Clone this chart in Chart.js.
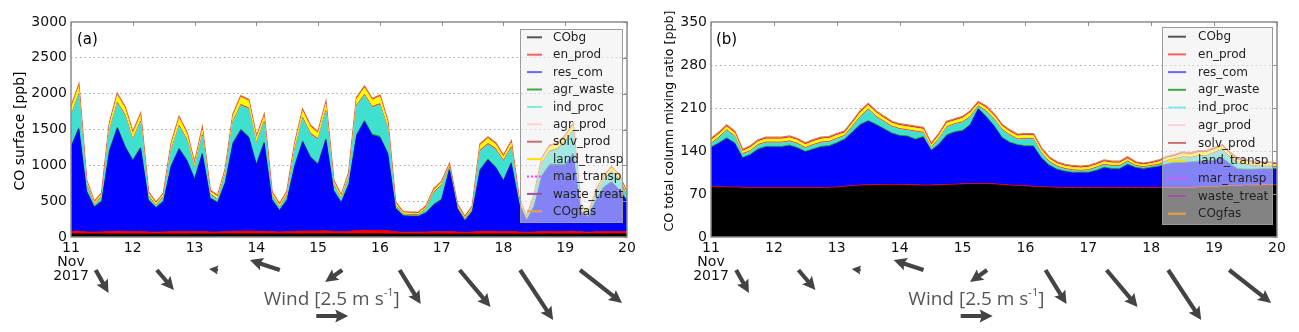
<!DOCTYPE html>
<html>
<head>
<meta charset="utf-8">
<script src="https://cdn.jsdelivr.net/npm/chart.js@4"></script>
<style>
  body { margin: 0; background: #fff; }
  .panel { position: absolute; top: 0; height: 332px; }
  #wrapA { left: 0; width: 650px; }
  #wrapB { left: 650px; width: 649px; }
</style>
</head>
<body>
<div class="panel" id="wrapA"><canvas id="chartA" width="650" height="332"></canvas></div>
<div class="panel" id="wrapB"><canvas id="chartB" width="649" height="332"></canvas></div>
<script>
// ---- data (3-hourly) ----
const times = [
  11, 11.125, 11.25, 11.375, 11.5, 11.625, 11.75, 11.875,
  12, 12.125, 12.25, 12.375, 12.5, 12.625, 12.75, 12.875,
  13, 13.125, 13.25, 13.375, 13.5, 13.625, 13.75, 13.875,
  14, 14.125, 14.25, 14.375, 14.5, 14.625, 14.75, 14.875,
  15, 15.125, 15.25, 15.375, 15.5, 15.625, 15.75, 15.875,
  16, 16.125, 16.25, 16.375, 16.5, 16.625, 16.75, 16.875,
  17, 17.125, 17.25, 17.375, 17.5, 17.625, 17.75, 17.875,
  18, 18.125, 18.25, 18.375, 18.5, 18.625, 18.75, 18.875,
  19, 19.125, 19.25, 19.375, 19.5, 19.625, 19.75, 19.875,
  20
];

const seriesLabels = ["CObg", "en_prod", "res_com", "agr_waste", "ind_proc", "agr_prod",
  "solv_prod", "land_transp", "mar_transp", "waste_treat", "COgfas"];

const xTicks = [11, 12, 13, 14, 15, 16, 17, 18, 19, 20];
const yTicksA = [0, 500, 1000, 1500, 2000, 2500, 3000];
const yTicksB = [0, 70, 140, 210, 280, 350];

// panel (a): CO surface [ppb]
const coBgA = [42,42,41,41,41,40,40,40, 40,40,40,40,40,40,40,40, 41,41,41,42,42,42,42,42, 42,42,42,42,42,42,42,42, 43,43,43,43,43,42,42,42, 42,41,41,40,40,40,40,40, 40,40,40,40,40,40,40,40, 40,40,40,40,40,40,41,41, 41,41,42,42,42,42,43,43, 43];
const enProdA = [35,38,30,28,30,36,40,38, 36,38,30,28,30,35,38,36, 34,36,30,28,32,38,40,40, 36,38,30,28,30,36,42,40, 40,44,34,32,36,48,52,50, 50,45,32,28,28,28,30,32, 32,36,30,26,30,38,40,38, 34,38,30,26,30,34,36,36, 36,40,30,26,30,32,34,32, 30];
const resComA = [1170,1425,565,345,425,1125,1435,1175, 985,1155,445,335,425,915,1145,985, 725,1075,465,405,685,1225,1405,1305, 925,1225,445,295,445,915,1240,1025, 925,1265,565,400,655,1325,1515,1325, 1295,1075,325,225,215,215,265,375, 445,855,325,155,285,855,995,885, 705,945,395,155,355,775,925,925, 925,1075,275,205,435,615,685,575, 425];
const agrWasteA = [16,18,13,12,12,16,18,17, 16,17,12,12,12,15,17,16, 14,16,12,12,13,17,18,18, 16,17,12,12,12,15,17,16, 16,17,13,12,13,18,18,18, 18,16,12,11,11,11,11,12, 12,14,12,11,11,15,15,15, 14,15,12,11,12,14,15,15, 15,16,12,11,12,13,13,13, 12];
const indProcA = [408,453,73,13,43,253,323,413, 263,343,38,13,43,193,293,263, 123,233,38,28,98,273,323,373, 268,263,38,23,48,193,303,303, 323,373,63,33,78,383,343,363, 433,323,23,5,5,5,38,153, 183,10,5,5,18,243,193,233, 253,193,13,3,93,153,163,193, 298,293,23,5,63,83,128,133, 43];
const agrProdA = [4,4,3,2,3,4,4,4, 4,4,3,2,3,4,4,4, 4,4,3,2,3,4,4,4, 4,4,3,2,3,4,4,4, 4,4,3,2,3,4,4,4, 4,4,2,2,2,2,2,3, 3,3,2,2,2,4,4,4, 4,4,2,2,3,4,4,4, 4,4,2,2,3,3,3,3, 3];
const solvProdA = [18,18,14,10,14,18,18,18, 18,18,14,10,14,18,18,18, 18,18,14,10,14,18,18,18, 18,18,14,10,14,18,18,18, 18,18,14,10,14,18,18,18, 18,18,10,10,10,10,10,14, 14,14,10,10,10,18,18,18, 18,18,10,10,14,18,18,18, 18,18,10,10,14,14,14,14, 14];
const landTranspA = [100,100,40,30,30,80,100,90, 80,80,35,30,30,70,100,80, 50,70,35,35,45,80,100,100, 70,70,35,30,35,70,90,90, 80,90,40,35,45,90,90,90, 100,80,30,20,20,20,25,30, 30,25,25,20,25,70,70,60, 50,60,30,20,30,50,60,60, 60,70,30,20,30,40,45,40, 30];
const marTranspA = [1,1,1,1,1,1,1,1, 1,1,1,1,1,1,1,1, 1,1,1,1,1,1,1,1, 1,1,1,1,1,1,1,1, 1,1,1,1,1,1,1,1, 1,1,1,1,1,1,1,1, 1,1,1,1,1,1,1,1, 1,1,1,1,1,1,1,1, 1,1,1,1,1,1,1,1, 1];
const wasteTreatA = [3,3,2,2,2,3,3,3, 3,3,2,2,2,3,3,3, 3,3,2,2,2,3,3,3, 3,3,2,2,2,3,3,3, 3,3,2,2,2,3,3,3, 3,3,2,2,2,2,2,2, 2,2,2,2,2,3,3,3, 3,3,2,2,2,3,3,3, 3,3,2,2,2,2,2,2, 2];
const coGfasA = [12,12,10,8,10,12,12,12, 12,12,10,8,10,12,12,12, 12,12,10,8,10,12,12,12, 12,12,10,8,10,12,12,12, 12,12,10,8,10,12,12,12, 12,12,8,8,8,8,8,10, 10,10,8,8,8,12,12,12, 12,12,8,8,10,12,12,12, 12,12,8,8,10,10,10,10, 10];

// panel (b): CO total column mixing ratio [ppb]
const coBgB = [81,80.5,80,80,79.5,79,79,79, 79,79,79,79,79,79,79,79.5, 80,81,82,83,83.5,83.5,84,84, 84,83.5,83.5,83,83,83.5,84,84.5, 85,85.5,85.5,85.5,85,84,83,82.5, 82,81,80.5,80,79.5,79,79,79, 79,79,79,79,79,79,79,79, 79,79,79,79,79,79,80,80.5, 81,81.5,82,82.5,83,83,83.5,83.5, 83.5];
const enProdB = [1.5,1.5,1.5,1.5,1.5,1.5,1.5,1.5, 1.5,1.5,1.5,1.5,1.5,1.5,1.5,1.5, 1.5,1.5,1.5,1.5,1.5,1.5,1.5,1.5, 1.5,1.5,1.5,1.5,1.5,1.5,1.5,1.5, 1.5,1.5,1.5,1.5,1.5,1.5,1.5,1.5, 1.5,1.5,1.5,1.5,1.5,1.5,1.5,1.5, 1.5,1.5,1.5,1.5,1.5,1.5,1.5,1.5, 1.5,1.5,1.5,1.5,1.5,1.5,1.5,1.5, 1.5,1.5,1.5,1.5,1.5,1.5,1.5,1.5, 1.5];
const resComB = [62.5,70,78.5,70.5,47,52.5,61.5,65.5, 65.5,65.5,67.5,63.5,57.5,61.5,65.5,66, 70.5,75.5,86.5,97.5,103,97,89.5,82.5, 78.5,78,73,77.5,55.5,65,79.5,84, 85.5,95,121,108,93.5,75.5,68.5,65, 63.5,64.5,46,34.5,28,25.5,23.5,23.5, 23.5,26.5,31.5,29.5,29.5,36.5,31.5,29.5, 31.5,33.5,37.5,39.5,39.5,40.5,40.5,41, 41.5,45,34.5,26,24.5,24.5,25,25, 25];
const agrWasteB = [1.5,1.5,1.5,1.5,1.5,1.5,1.5,1.5, 1.5,1.5,1.5,1.5,1.5,1.5,1.5,1.5, 1.5,1.5,1.5,1.5,1.5,1.5,1.5,1.5, 1.5,1.5,1.5,1.5,1.5,1.5,1.5,1.5, 1.5,1.5,1.5,1.5,1.5,1.5,1.5,1.5, 1.5,1.5,1.5,1.5,1.5,1.5,1.5,1.5, 1.5,1.5,1.5,1.5,1.5,1.5,1.5,1.5, 1.5,1.5,1.5,1.5,1.5,1.5,1.5,1.5, 1.5,1.5,1.5,1.5,1.5,1.5,1.5,1.5, 1.5];
const indProcB = [4,7,11,9,4,4,5,5, 5,5,5,5,4,5,5,5, 5,4,7,11,17,11,10,9, 9,8,11,5,2,7,11,11, 12,11,2,7,9,11,10,7, 10,10,6,4,3,2,2,1, 2,3,3,3,3,3,1,1, 1,1,3,4,7,5,7,6, 10,11,9,7,6,4,2,2, 1];
const agrProdB = [0.5,0.5,0.5,0.5,0.5,0.5,0.5,0.5, 0.5,0.5,0.5,0.5,0.5,0.5,0.5,0.5, 0.5,0.5,0.5,0.5,0.5,0.5,0.5,0.5, 0.5,0.5,0.5,0.5,0.5,0.5,0.5,0.5, 0.5,0.5,0.5,0.5,0.5,0.5,0.5,0.5, 0.5,0.5,0.5,0.5,0.5,0.5,0.5,0.5, 0.5,0.5,0.5,0.5,0.5,0.5,0.5,0.5, 0.5,0.5,0.5,0.5,0.5,0.5,0.5,0.5, 0.5,0.5,0.5,0.5,0.5,0.5,0.5,0.5, 0.5];
const solvProdB = [1.5,1.5,1.5,1.5,1.5,1.5,1.5,1.5, 1.5,1.5,1.5,1.5,1.5,1.5,1.5,1.5, 1.5,1.5,1.5,1.5,1.5,1.5,1.5,1.5, 1.5,1.5,1.5,1.5,1.5,1.5,1.5,1.5, 1.5,1.5,1.5,1.5,1.5,1.5,1.5,1.5, 1.5,1.5,1.5,1.5,1.5,1.5,1.5,1.5, 1.5,1.5,1.5,1.5,1.5,1.5,1.5,1.5, 1.5,1.5,1.5,1.5,1.5,1.5,1.5,1.5, 1.5,1.5,1.5,1.5,1.5,1.5,1.5,1.5, 1.5];
const landTranspB = [5,5,5,5,4,5,5,5, 5,5,5,5,5,5,5,5, 5,4,5,6,6,6,5,5, 5,5,5,5,4,5,6,5, 6,6,4,5,5,5,5,5, 5,5,5,4,4,4,4,4, 4,4,4,4,4,4,3,3, 3,4,4,4,5,5,5,5, 5,5,5,5,5,4,4,4, 3];
const marTranspB = [0.3,0.3,0.3,0.3,0.3,0.3,0.3,0.3, 0.3,0.3,0.3,0.3,0.3,0.3,0.3,0.3, 0.3,0.3,0.3,0.3,0.3,0.3,0.3,0.3, 0.3,0.3,0.3,0.3,0.3,0.3,0.3,0.3, 0.3,0.3,0.3,0.3,0.3,0.3,0.3,0.3, 0.3,0.3,0.3,0.3,0.3,0.3,0.3,0.3, 0.3,0.3,0.3,0.3,0.3,0.3,0.3,0.3, 0.3,0.3,0.3,0.3,0.3,0.3,0.3,0.3, 0.3,0.3,0.3,0.3,0.3,0.3,0.3,0.3, 0.3];
const wasteTreatB = [0.5,0.5,0.5,0.5,0.5,0.5,0.5,0.5, 0.5,0.5,0.5,0.5,0.5,0.5,0.5,0.5, 0.5,0.5,0.5,0.5,0.5,0.5,0.5,0.5, 0.5,0.5,0.5,0.5,0.5,0.5,0.5,0.5, 0.5,0.5,0.5,0.5,0.5,0.5,0.5,0.5, 0.5,0.5,0.5,0.5,0.5,0.5,0.5,0.5, 0.5,0.5,0.5,0.5,0.5,0.5,0.5,0.5, 0.5,0.5,0.5,0.5,0.5,0.5,0.5,0.5, 0.5,0.5,0.5,0.5,0.5,0.5,0.5,0.5, 0.5];
const coGfasB = [1.5,1.5,1.5,1.5,1.5,1.5,1.5,1.5, 1.5,1.5,1.5,1.5,1.5,1.5,1.5,1.5, 1.5,1.5,1.5,1.5,1.5,1.5,1.5,1.5, 1.5,1.5,1.5,1.5,1.5,1.5,1.5,1.5, 1.5,1.5,1.5,1.5,1.5,1.5,1.5,1.5, 1.5,1.5,1.5,1.5,1.5,1.5,1.5,1.5, 1.5,1.5,1.5,1.5,1.5,1.5,1.5,1.5, 1.5,1.5,1.5,1.5,1.5,1.5,1.5,1.5, 1.5,1.5,1.5,1.5,1.5,1.5,1.5,1.5, 1.5];

// wind vectors (tail time in days, u/v in m/s)
const windTimes = [11.40, 12.39, 13.38, 14.38, 15.39, 16.32, 17.29, 18.27, 19.24];
const windU = [1.0, 1.33, -0.7, -2.34, -1.33, 1.64, 2.42, 2.58, 3.28];
const windV = [-1.8, -1.56, 0.08, 0.78, -0.94, -2.66, -2.89, -3.9, -2.58];
const windRefSpeed = 2.5;

// ---- styles ----
const fillColors = ["#000000", "#ff0000", "#0000ff", "#008000", "#40e0d0", "#ffc0cb",
  "#b5443a", "#ffff00", "#ff00ff", "#800080", "#ff9a2e"];
const lineColors = ["#000000", "#e00000", "#0000ff", "#2a9a2a", "#40e0d0", "#ffb6c1",
  "#c0504a", "#ffee00", "#ff00ff", "#8b008b", "#e07838"];
const legendColors = ["#555555", "#ff6060", "#6666ff", "#40a840", "#80e8e0", "#ffd0d8",
  "#c87070", "#ffe000", "#ff40ff", "#a050a0", "#f0a040"];

Chart.defaults.font.family = "DejaVu Sans";
Chart.defaults.color = "#111";

const ARROW_PX_PER_MS = 12.8;

function drawArrow(ctx, x0, y0, dx, dy) {
  const len = Math.hypot(dx, dy);
  if (len < 0.5) return;
  const ux = dx / len, uy = dy / len;
  const nx = -uy, ny = ux;
  let hl = 13, hw = 6.5, sw = 2.1;
  if (len < hl) {
    const s = len / hl;
    hl = len; hw *= Math.max(s, 0.65); sw *= s;
  }
  const bx = x0 + ux * (len - hl), by = y0 + uy * (len - hl);
  // small notch at the back of the head, like a quiver arrow
  const nxb = x0 + ux * (len - hl * 0.88), nyb = y0 + uy * (len - hl * 0.88);
  ctx.beginPath();
  ctx.moveTo(x0 + nx * sw, y0 + ny * sw);
  ctx.lineTo(nxb + nx * sw, nyb + ny * sw);
  ctx.lineTo(bx + nx * hw, by + ny * hw);
  ctx.lineTo(x0 + dx, y0 + dy);
  ctx.lineTo(bx - nx * hw, by - ny * hw);
  ctx.lineTo(nxb - nx * sw, nyb - ny * sw);
  ctx.lineTo(x0 - nx * sw, y0 - ny * sw);
  ctx.closePath();
  ctx.fill();
}

// frame, inner ticks, panel letter, y title, legend and wind row
const panelDecor = {
  id: "panelDecor",
  afterDraw(chart, args, opts) {
    const { ctx, chartArea: area } = chart;
    const x = chart.scales.x, y = chart.scales.y;
    ctx.save();

    // inner tick marks on top and right
    ctx.strokeStyle = "#8c8c8c";
    ctx.lineWidth = 1;
    xTicks.forEach(v => {
      const px = Math.round(x.getPixelForValue(v)) + 0.5;
      ctx.beginPath(); ctx.moveTo(px, area.top); ctx.lineTo(px, area.top + 4); ctx.stroke();
    });
    opts.yTicks.forEach(v => {
      const py = Math.round(y.getPixelForValue(v)) + 0.5;
      ctx.beginPath(); ctx.moveTo(area.right - 4, py); ctx.lineTo(area.right, py); ctx.stroke();
    });

    // frame
    ctx.lineWidth = 1.5;
    ctx.strokeRect(area.left, area.top, area.right - area.left, area.bottom - area.top);

    // panel letter
    ctx.fillStyle = "#000";
    ctx.font = "15px 'DejaVu Sans'";
    ctx.textBaseline = "middle";
    ctx.textAlign = "left";
    ctx.fillText(opts.letter, area.left + opts.letterDx, area.top + 18);

    // y axis title
    ctx.save();
    ctx.translate(opts.titleX, opts.titleY);
    ctx.rotate(-Math.PI / 2);
    ctx.textAlign = "center";
    ctx.font = opts.titleSize + "px 'DejaVu Sans'";
    ctx.fillText(opts.title, 0, 0);
    ctx.restore();

    // legend
    const lg = opts.legend;
    ctx.fillStyle = "rgba(238,238,238,0.55)";
    ctx.fillRect(lg.x, lg.y, lg.w, lg.h);
    ctx.strokeStyle = "#9a9a9a";
    ctx.lineWidth = 1;
    ctx.strokeRect(lg.x + 0.5, lg.y + 0.5, lg.w, lg.h);
    ctx.font = "12px 'DejaVu Sans'";
    seriesLabels.forEach((name, i) => {
      const ry = lg.y + lg.row0 + i * lg.step;
      ctx.strokeStyle = legendColors[i];
      ctx.lineWidth = 2;
      ctx.setLineDash(name === "mar_transp" ? [2, 2] : []);
      ctx.beginPath();
      ctx.moveTo(lg.x + lg.line0, ry);
      ctx.lineTo(lg.x + lg.line1, ry);
      ctx.stroke();
      ctx.setLineDash([]);
      ctx.fillStyle = "#222";
      ctx.fillText(name, lg.x + lg.textX, ry + 0.5);
    });

    // wind arrows
    ctx.fillStyle = "#444";
    windTimes.forEach((t, i) => {
      drawArrow(ctx, x.getPixelForValue(t), 270,
        windU[i] * ARROW_PX_PER_MS, -windV[i] * ARROW_PX_PER_MS);
    });
    drawArrow(ctx, x.getPixelForValue(14.97), 316, windRefSpeed * ARROW_PX_PER_MS, 0);

    // wind label
    ctx.fillStyle = "#555";
    ctx.textBaseline = "alphabetic";
    const main = "Wind [" + windRefSpeed + " m s";
    ctx.font = "19px 'Open Sans'";
    const w1 = ctx.measureText(main).width;
    const w3 = ctx.measureText("]").width;
    ctx.font = "11px 'Open Sans'";
    const w2 = ctx.measureText("-1").width;
    let tx = x.getPixelForValue(15.22) - (w1 + w2 + w3) / 2;
    ctx.font = "19px 'Open Sans'";
    ctx.fillText(main, tx, 305);
    ctx.font = "11px 'Open Sans'";
    ctx.fillText("-1", tx + w1, 296);
    ctx.font = "19px 'Open Sans'";
    ctx.fillText("]", tx + w1 + w2, 305);

    ctx.restore();
  }
};

function buildDatasets(series) {
  return series.map((vals, i) => ({
    label: seriesLabels[i],
    data: vals.map((v, j) => ({ x: times[j], y: v })),
    backgroundColor: fillColors[i],
    borderColor: lineColors[i],
    borderWidth: i === series.length - 1 ? 2 : 1,
    fill: i === 0 ? "origin" : "-1",
    pointRadius: 0,
    tension: 0
  }));
}

function makePanel(canvasId, series, p) {
  const ctx = document.getElementById(canvasId).getContext("2d");
  const yMax = p.yTicks[p.yTicks.length - 1];
  return new Chart(ctx, {
    type: "line",
    data: { datasets: buildDatasets(series) },
    options: {
      responsive: false,
      animation: false,
      events: [],
      layout: { padding: { top: 22, right: p.padRight, bottom: 0, left: 0 } },
      plugins: {
        legend: { display: false },
        tooltip: { enabled: false },
        panelDecor: p
      },
      scales: {
        x: {
          type: "linear",
          min: 11,
          max: 20,
          afterBuildTicks: s => { s.ticks = xTicks.map(v => ({ value: v })); },
          ticks: {
            autoSkip: false,
            maxRotation: 0,
            padding: 4,
            color: "#111",
            font: { size: 14, lineHeight: 1.0 },
            callback: v => (v === 11 ? ["11", "Nov", "2017"] : String(v))
          },
          grid: { display: false, drawTicks: false },
          border: { display: false },
          afterFit: s => { s.height = 95; }
        },
        y: {
          stacked: true,
          min: 0,
          max: yMax,
          afterBuildTicks: s => { s.ticks = p.yTicks.map(v => ({ value: v })); },
          ticks: { padding: 4, color: "#111", font: { size: 14 }, callback: v => String(v) },
          grid: {
            drawTicks: false,
            lineWidth: 1,
            color: c => (c.tick && (c.tick.value === 0 || c.tick.value === yMax))
              ? "rgba(0,0,0,0)" : "#a8a8a8"
          },
          border: { display: false, dash: [1.5, 3] },
          afterFit: s => { s.width = p.yWidth; }
        }
      }
    },
    plugins: [panelDecor]
  });
}

makePanel("chartA",
  [coBgA, enProdA, resComA, agrWasteA, indProcA, agrProdA, solvProdA, landTranspA, marTranspA, wasteTreatA, coGfasA],
  {
    yTicks: yTicksA, yWidth: 71, padRight: 23,
    letter: "(a)", letterDx: 6,
    title: "CO surface [ppb]", titleSize: 14, titleX: 20, titleY: 131,
    legend: { x: 520, y: 29, w: 102, h: 193, row0: 8.3, step: 17.4, line0: 7, line1: 22, textX: 33 }
  });

makePanel("chartB",
  [coBgB, enProdB, resComB, agrWasteB, indProcB, agrProdB, solvProdB, landTranspB, marTranspB, wasteTreatB, coGfasB],
  {
    yTicks: yTicksB, yWidth: 61, padRight: 22,
    letter: "(b)", letterDx: 5,
    title: "CO total column mixing ratio [ppb]", titleSize: 12.7, titleX: 20, titleY: 121,
    legend: { x: 512, y: 27, w: 110, h: 197, row0: 9.7, step: 17.7, line0: 6, line1: 24, textX: 36 }
  });
</script>
</body>
</html>
